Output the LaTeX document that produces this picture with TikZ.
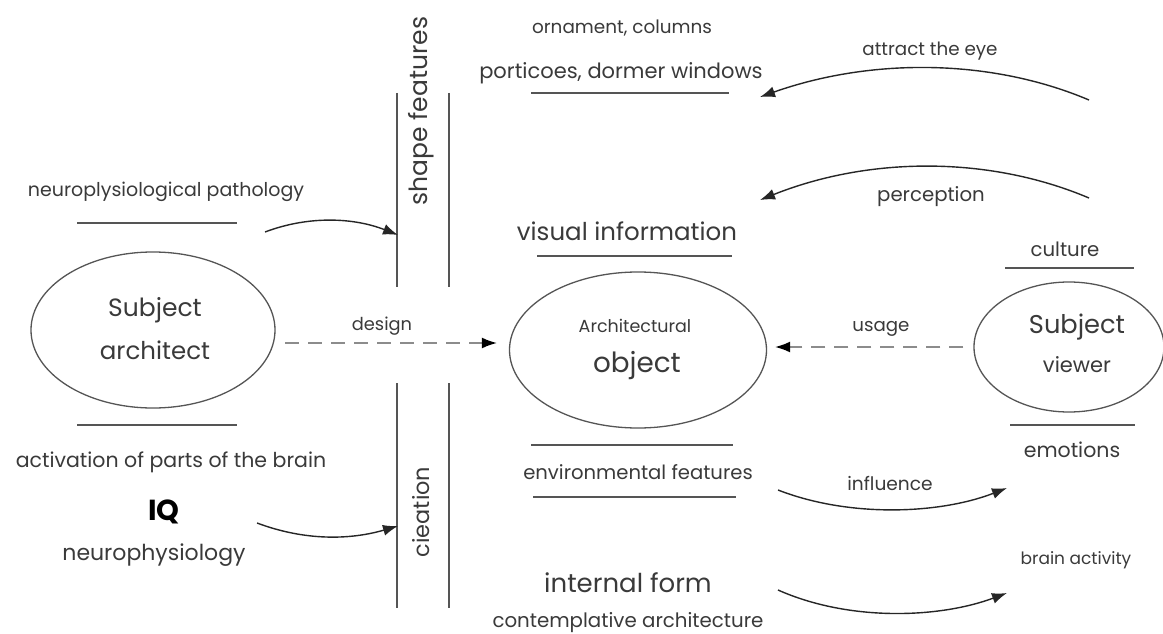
\documentclass[tikz,border=0pt]{standalone}
\usepackage{fontspec}
\setmainfont{Poppins}
\usetikzlibrary{shapes.geometric,arrows.meta}
\definecolor{txt}{HTML}{3A3A3A}
\definecolor{ln}{HTML}{555555}
\newcommand{\fs}[1]{\fontsize{#1}{#1}\selectfont}
\tikzset{
  lbl/.style={text=txt,inner sep=0pt},
  oval/.style={draw=ln,line width=1.3pt,ellipse,inner sep=0pt},
  rule/.style={draw=ln,line width=1.4pt},
  arr/.style={draw=black!85,line width=1.4pt,-{Latex[length=15pt,width=11pt]}},
  dasharr/.style={draw=black!45,line width=1.6pt,dash pattern=on 14pt off 9pt,-{Latex[length=15pt,width=11pt,fill=black,color=black]}}
}
\begin{document}
\begin{tikzpicture}[x=1pt,y=-1pt]
\path[use as bounding box,fill=white] (0,0) rectangle (1163,634);

% left column
\node[lbl,font=\fs{19}] (np) at (166,192) {neuroplysiological pathology};
\draw[rule] (77,223) -- (237,223);
\node[oval,minimum width=244pt,minimum height=156pt] (arch) at (153,330) {};
\node[lbl,font=\fs{25}] (subj1) at (155,310) {Subject};
\node[lbl,font=\fs{24.5}] (archt) at (155,350) {architect};
\draw[rule] (77,425) -- (237,425);
\node[lbl,font=\fs{20.5}] (act) at (171,462) {activation of parts of the brain};
\node[text=black,inner sep=0pt,font=\fs{29}\bfseries] (iq) at (164,512) {IQ};
\node[lbl,font=\fs{22}] (nphys) at (154,555) {neurophysiology};

% vertical bars
\draw[rule] (397,93) -- (397,287);
\draw[rule] (449,93) -- (449,287);
\draw[rule] (397,383) -- (397,608);
\draw[rule] (449,383) -- (449,608);
\node[lbl,font=\fs{25},rotate=90] (shape) at (421,111) {shape features};
\node[lbl,font=\fs{22.4},rotate=90] (ciea) at (421,512) {cieation};

\coordinate (npS) at (265,232);
\coordinate (npE) at (398,235);
\draw[arr] (npS) .. controls (310,215) and (355,218) .. (npE);
\coordinate (iqS) at (257,523);
\coordinate (iqE) at (398,526);
\draw[arr] (iqS) .. controls (305,541) and (350,540) .. (iqE);

% design
\coordinate (desS) at (285,343);
\node[lbl,font=\fs{17.8}] (des) at (382,326) {design};

% middle column
\node[lbl,font=\fs{18.4}] (orn) at (622,28) {ornament, columns};
\node[lbl,font=\fs{21}] (port) at (621,73) {porticoes, dormer windows};
\draw[rule] (531,93) -- (729,93);
\node[lbl,font=\fs{24.5}] (vis) at (627,231) {visual information};
\draw[rule] (537,256) -- (732,256);
\node[oval,minimum width=257pt,minimum height=156pt] (obj) at (638,350) {};
\node[lbl,font=\fs{17.5}] (archl) at (635,326) {Architectural};
\node[lbl,font=\fs{27.8}] (objt) at (637,366) {object};
\draw[rule] (531,445) -- (733,445);
\node[lbl,font=\fs{19.6}] (env) at (638,472) {environmental features};
\draw[rule] (533,497) -- (736,497);
\node[lbl,font=\fs{26}] (intf) at (628,583) {internal form};
\node[lbl,font=\fs{19.8}] (cont) at (628,623) {contemplative architecture};

\draw[dasharr,shorten >=12pt] (desS) -- (desS -| obj.west);

% right column
\coordinate (attS) at (1089,100);
\coordinate (attE) at (760,97);
\node[lbl,font=\fs{18.3}] (att) at (930,51) {attract the eye};
\draw[arr] (attS) .. controls (990,58) and (870,58) .. (attE);
\coordinate (perS) at (1089,198);
\coordinate (perE) at (760,200);
\node[lbl,font=\fs{19.7}] (per) at (931,197) {perception};
\draw[arr] (perS) .. controls (990,156) and (870,156) .. (perE);

\node[lbl,font=\fs{19.7}] (cul) at (1065,249) {culture};
\draw[rule] (1005,268) -- (1134,268);
\node[oval,minimum width=190pt,minimum height=130pt] (view) at (1069,347) {};
\node[lbl,font=\fs{25.7}] (subj2) at (1077,327) {Subject};
\node[lbl,font=\fs{21}] (vw) at (1077,365) {viewer};
\draw[rule] (1010,425) -- (1135,425);
\node[lbl,font=\fs{20.5}] (emo) at (1072,450) {emotions};
\node[lbl,font=\fs{17}] (brain) at (1076,560) {brain activity};

\node[lbl,font=\fs{18.2}] (use) at (881,329) {usage};
\draw[dasharr,shorten <=10pt,shorten >=8pt] (view.west) -- (view.west -| obj.east);

\coordinate (infS) at (778,490);
\coordinate (infE) at (1007,488);
\node[lbl,font=\fs{18.6}] (inf) at (890,483) {influence};
\draw[arr] (infS) .. controls (850,518) and (940,514) .. (infE);
\coordinate (intS) at (778,590);
\coordinate (intE) at (1007,593);
\draw[arr] (intS) .. controls (850,622) and (940,618) .. (intE);
\end{tikzpicture}
\end{document}
